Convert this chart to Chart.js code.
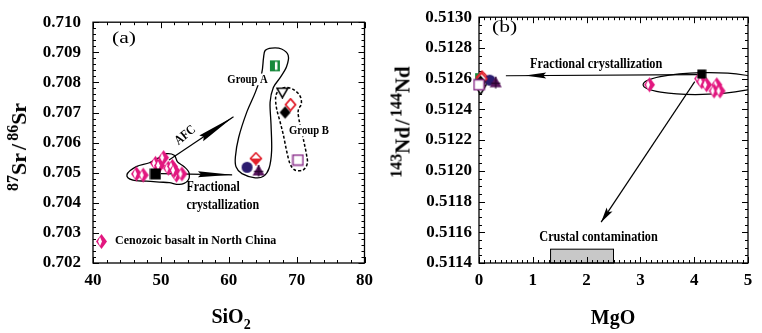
<!DOCTYPE html>
<html><head><meta charset="utf-8">
<script src="https://cdn.jsdelivr.net/npm/chart.js@4.4.1/dist/chart.umd.min.js"></script>
<style>
html,body{margin:0;padding:0;background:#fff;}
#wrap{position:relative;width:762px;height:333px;overflow:hidden;background:#fff;font-family:"Liberation Serif","Times New Roman",serif;}
canvas{position:absolute;top:0;}
.t{position:absolute;font-weight:bold;color:#000;white-space:nowrap;line-height:1;}
.sp{position:relative;}
</style></head><body>
<div id="wrap">
<canvas id="ca" width="380" height="333" style="left:0;width:380px;height:333px"></canvas>
<canvas id="cb" width="382" height="333" style="left:380px;width:382px;height:333px"></canvas>
<div class="t" style="left:231px;top:316px;transform:translate(-50%,-50%);font-size:20px">SiO<span class="sp" style="font-size:14px;top:6px">2</span></div>
<div class="t" style="left:613px;top:317px;transform:translate(-50%,-50%);font-size:20px">MgO</div>
<div class="t" style="left:19px;top:147px;transform:translate(-50%,-50%) rotate(-90deg);font-size:22px"><span class="sp" style="font-size:16px;top:-8px">87</span>Sr<span style="margin:0 3px">/</span><span class="sp" style="font-size:16px;top:-8px">86</span>Sr</div>
<div class="t" style="left:403px;top:122px;transform:translate(-50%,-50%) rotate(-90deg);font-size:21px"><span class="sp" style="font-size:16px;top:-8px">143</span>Nd<span style="margin:0 2px">/</span><span class="sp" style="font-size:16px;top:-8px">144</span>Nd</div>
</div>
<script>
// ---------------- DATA ----------------
// Panel (a): SiO2 vs 87Sr/86Sr
const siTicks = [40, 50, 60, 70, 80];
const srTicks = [0.702, 0.703, 0.704, 0.705, 0.706, 0.707, 0.708, 0.709, 0.710];
// Panel (b): MgO vs 143Nd/144Nd
const mgTicks = [0, 1, 2, 3, 4, 5];
const ndTicks = [0.5114, 0.5116, 0.5118, 0.5120, 0.5122, 0.5124, 0.5126, 0.5128, 0.5130];

// Cenozoic basalt in North China
const basaltSiO2 = [46.4, 47.4, 49.2, 50.4, 51.1, 51.7, 52.3, 53.1, 52.0, 49.8];
const basaltSr   = [0.70496, 0.70492, 0.70531, 0.70550, 0.70515, 0.70521, 0.70492, 0.70496, 0.70508, 0.70524];
const basaltMgO  = [3.17, 4.10, 4.14, 4.23, 4.42, 4.37, 4.48];
const basaltNd   = [0.51256, 0.51260, 0.51258, 0.51256, 0.51256, 0.51252, 0.51252];

// Starting composition (black square)
const startSiO2 = [49.2];
const startSr   = [0.70496];
const startMgO  = [4.14];
const startNd   = [0.51263];

// Samples: Group A (0-3), Group B (4-7)
const sampleNames = ['A-green', 'A-red', 'A-circle', 'A-triangle', 'B-invtri', 'B-reddiamond', 'B-blackdiamond', 'B-square'];
const sampleSiO2  = [66.8, 64.0, 62.7, 64.4, 67.9, 69.1, 68.3, 70.2];
const sampleSr    = [0.70855, 0.70547, 0.70518, 0.70509, 0.70766, 0.70726, 0.70700, 0.70542];
const sampleMgO   = [0.02, 0.06, 0.20, 0.31, 0.03, 0.05, 0.03, 0.00];
const sampleNd    = [0.51260, 0.51261, 0.51259, 0.51258, 0.51253, 0.51260, 0.51258, 0.51256];

// Field outlines (SiO2, Sr) for panel (a)
const basaltField = [[45.0,0.70493],[46.38,0.70520],[48.32,0.70533],[50.03,0.70554],[50.76,0.70563],[51.97,0.70558],[52.45,0.70536],[53.43,0.70520],[54.16,0.70499],[53.91,0.70472],[52.70,0.70461],[51.24,0.70467],[49.78,0.70469],[47.84,0.70472],[45.88,0.70475]];
const groupAField = [[60.98,0.70553],[61.46,0.70617],[62.67,0.70702],[63.90,0.70766],[64.86,0.70831],[65.11,0.70879],[65.36,0.70906],[66.32,0.70914],[67.78,0.70911],[68.76,0.70890],[68.51,0.70852],[67.55,0.70815],[66.57,0.70783],[66.09,0.70734],[66.23,0.70659],[66.32,0.70574],[65.94,0.70515],[65.11,0.70488],[63.90,0.70483],[61.94,0.70497],[61.07,0.70520]];
const groupBField = [[67.30,0.70772],[68.28,0.70783],[69.49,0.70777],[70.47,0.70756],[70.70,0.70729],[70.22,0.70697],[71.09,0.70601],[71.43,0.70563],[71.58,0.70531],[70.95,0.70509],[69.74,0.70509],[69.01,0.70531],[68.51,0.70574],[68.03,0.70627],[67.55,0.70670],[67.05,0.70713],[66.91,0.70750]];
// Trend arrows [start, tip]
const afcArrow = [[51.2,0.70542],[60.7,0.70686]];
const fcArrowA = [[50.0,0.70497],[60.5,0.70493]];
const fcArrowB = [[4.07,0.512626],[0.50,0.512619]];
const ccArrow  = [[4.01,0.512581],[2.27,0.511666]];
// Crustal contamination box (MgO range, Nd range)
const crustMgO = [1.33, 2.50];
const crustNd  = [0.5114, 0.51149];
// Basalt ellipse in (b)
const ellCenter = [4.15, 0.512568];
const ellHalf   = [1.1, 0.000071];

// ---------------- MARKERS ----------------
const F = '"Liberation Serif","Times New Roman",serif';
const PINK='#e2177f', GREEN='#17893b', RED='#e11f2b', NAVY='#2b1c6f', PURP='#5b165f', LPURP='#8b2f8b';
function mk(w,h,fn){const c=document.createElement('canvas');c.width=w;c.height=h;fn(c.getContext('2d'),w,h);return c;}
function dia(x,cx,cy,hw,hh){x.beginPath();x.moveTo(cx,cy-hh);x.lineTo(cx+hw,cy);x.lineTo(cx,cy+hh);x.lineTo(cx-hw,cy);x.closePath();}
const mBasalt=mk(13,17,x=>{dia(x,6.5,8.5,5.5,7.5);x.fillStyle=PINK;x.fill();dia(x,5,8.5,2,4.5);x.fillStyle='#fff';x.fill();});
const mGreen=mk(12,13,x=>{x.fillStyle=GREEN;x.fillRect(1,1,10,11);x.fillStyle='#fff';x.fillRect(6,2.5,2.5,8);});
const mRedHalf=mk(14,14,x=>{dia(x,7,7,5.5,5.8);x.fillStyle='#fff';x.fill();x.strokeStyle=RED;x.lineWidth=1.6;x.stroke();x.beginPath();x.moveTo(1.5,7);x.lineTo(12.5,7);x.lineTo(7,12.8);x.closePath();x.fillStyle=RED;x.fill();});
const mNavy=mk(13,13,x=>{x.beginPath();x.arc(6.5,6.5,5.5,0,Math.PI*2);x.fillStyle=NAVY;x.fill();});
const mPurpTri=mk(14,14,x=>{x.beginPath();x.moveTo(7,1.5);x.lineTo(13,12.5);x.lineTo(1,12.5);x.closePath();x.fillStyle=PURP;x.fill();x.strokeStyle='#2a0530';x.lineWidth=1.3;x.beginPath();x.moveTo(7,2);x.lineTo(7,13.5);x.moveTo(2.5,8.5);x.lineTo(11.5,8.5);x.stroke();});
const mInvTri=mk(13,12,x=>{x.beginPath();x.moveTo(1,1.5);x.lineTo(12,1.5);x.lineTo(6.5,11);x.closePath();x.fillStyle='#fff';x.fill();x.strokeStyle='#000';x.lineWidth=1.5;x.stroke();});
const mRedOpen=mk(13,14,x=>{dia(x,6.5,7,5,5.8);x.fillStyle='#fff';x.fill();x.strokeStyle=RED;x.lineWidth=1.8;x.stroke();});
const mBlackDia=mk(13,14,x=>{dia(x,6.5,7,5.5,6.2);x.fillStyle='#000';x.fill();});
const mPurpSq=mk(13,13,x=>{x.fillStyle='#fff';x.fillRect(1.5,1.5,10,10);x.strokeStyle=LPURP;x.lineWidth=1.5;x.strokeRect(1.5,1.5,10,10);});
const mBlackSq=mk(12,12,x=>{x.fillStyle='#000';x.fillRect(0.5,0.5,11,11);});
const mBlackSqB=mk(10,10,x=>{x.fillStyle='#000';x.fillRect(0.5,0.5,9,9);});
const sampleMarkers=[mGreen,mRedHalf,mNavy,mPurpTri,mInvTri,mRedOpen,mBlackDia,mPurpSq];

// ---------------- HELPERS ----------------
function txt(ctx,s,x,y,o){ctx.save();ctx.translate(x,y);if(o.rot)ctx.rotate(o.rot);ctx.scale(o.sx||1,1);
  ctx.font=`${o.w||'bold'} ${o.size}px ${F}`;ctx.textAlign=o.align||'left';ctx.textBaseline='middle';
  if(o.bg){const w=ctx.measureText(s).width;const x0=o.align==='center'?-w/2:0;ctx.fillStyle='#fff';ctx.fillRect(x0-1,-o.size*0.45,w+2,o.size*0.9);}
  ctx.fillStyle='#000';ctx.fillText(s,0,0);ctx.restore();}
function P(chart,p){return [chart.scales.x.getPixelForValue(p[0]),chart.scales.y.getPixelForValue(p[1])];}
function closedCurve(ctx,pts){const n=pts.length;ctx.beginPath();ctx.moveTo(pts[0][0],pts[0][1]);
  for(let i=0;i<n;i++){const p0=pts[(i-1+n)%n],p1=pts[i],p2=pts[(i+1)%n],p3=pts[(i+2)%n];
    ctx.bezierCurveTo(p1[0]+(p2[0]-p0[0])/6,p1[1]+(p2[1]-p0[1])/6,p2[0]-(p3[0]-p1[0])/6,p2[1]-(p3[1]-p1[1])/6,p2[0],p2[1]);}
  ctx.closePath();}
function arrow(ctx,a,b,f0,f1,hw){ctx.save();ctx.strokeStyle='#000';ctx.fillStyle='#000';ctx.lineWidth=1.2;
  ctx.beginPath();ctx.moveTo(a[0],a[1]);ctx.lineTo(b[0],b[1]);ctx.stroke();
  const dx=b[0]-a[0],dy=b[1]-a[1],L=Math.hypot(dx,dy),ux=dx/L,uy=dy/L,nx=-uy,ny=ux;
  const bx=a[0]+dx*f0,by=a[1]+dy*f0,tx=a[0]+dx*f1,ty=a[1]+dy*f1;
  ctx.beginPath();ctx.moveTo(tx,ty);ctx.lineTo(bx+nx*hw,by+ny*hw);ctx.lineTo(bx+ux*3,by+uy*3);ctx.lineTo(bx-nx*hw,by-ny*hw);ctx.closePath();ctx.fill();ctx.restore();}
function frame(chart,xMaj,xMin,yMaj,yMin){const ctx=chart.ctx,a=chart.chartArea,xs=chart.scales.x,ys=chart.scales.y;
  ctx.save();ctx.strokeStyle='#000';ctx.lineWidth=1.3;ctx.strokeRect(a.left,a.top,a.right-a.left,a.bottom-a.top);
  ctx.lineWidth=1;ctx.beginPath();
  const isMaj=(arr,v,eps)=>arr.some(m=>Math.abs(m-v)<eps);
  const nx=Math.round((xs.max-xs.min)/xMin);
  for(let i=0;i<=nx;i++){const v=xs.min+i*xMin,px=Math.round(xs.getPixelForValue(v))+0.5,l=isMaj(xMaj,v,xMin/10)?6:3;
    ctx.moveTo(px,a.bottom);ctx.lineTo(px,a.bottom-l);ctx.moveTo(px,a.top);ctx.lineTo(px,a.top+l);}
  const ny=Math.round((ys.max-ys.min)/yMin);
  for(let i=0;i<=ny;i++){const v=ys.min+i*yMin,py=Math.round(ys.getPixelForValue(v))+0.5,l=isMaj(yMaj,v,yMin/10)?6:3;
    ctx.moveTo(a.left,py);ctx.lineTo(a.left+l,py);ctx.moveTo(a.right,py);ctx.lineTo(a.right-l,py);}
  ctx.stroke();ctx.restore();}

const tickFont={family:F,size:17,weight:'bold'};
function scales(xmin,xmax,xt,xfmt,ymin,ymax,yt,yfmt,ywidth,ypad){
  return {
    x:{type:'linear',min:xmin,max:xmax,grid:{display:false,drawTicks:false},border:{display:false},
       ticks:{font:tickFont,color:'#000',padding:7,autoSkip:false,maxRotation:0,callback:xfmt},
       afterBuildTicks:s=>{s.ticks=xt.map(v=>({value:v}));},afterFit:s=>{s.height=70;}},
    y:{type:'linear',min:ymin,max:ymax,grid:{display:false,drawTicks:false},border:{display:false},
       ticks:{font:tickFont,color:'#000',padding:ypad,autoSkip:false,callback:yfmt},
       afterBuildTicks:s=>{s.ticks=yt.map(v=>({value:v}));},afterFit:s=>{s.width=ywidth;}}
  };
}
const common={responsive:false,animation:false,events:[],plugins:{legend:{display:false},tooltip:{enabled:false}}};

// ---------------- PANEL (a) ----------------
new Chart(document.getElementById('ca'),{
  type:'scatter',
  data:{datasets:[
    {data:startSiO2.map((v,i)=>({x:v,y:startSr[i]})),pointStyle:mBlackSq,clip:false},
    {data:sampleSiO2.map((v,i)=>({x:v,y:sampleSr[i]})),pointStyle:sampleMarkers,clip:false},
    {data:basaltSiO2.map((v,i)=>({x:v,y:basaltSr[i]})),pointStyle:mBasalt,clip:false}
  ]},
  options:{...common,layout:{padding:{top:14,right:13,left:0,bottom:0}},
    scales:scales(40,80,siTicks,v=>String(v),0.702,0.710,srTicks,v=>v.toFixed(3),93,12)},
  plugins:[{id:'decoA',beforeDatasetsDraw(chart){
    const ctx=chart.ctx,a=chart.chartArea;
    frame(chart,siTicks,2,srTicks,0.0002);
    ctx.save();ctx.strokeStyle='#000';ctx.lineWidth=1.3;
    closedCurve(ctx,basaltField.map(p=>P(chart,p)));ctx.stroke();
    closedCurve(ctx,groupAField.map(p=>P(chart,p)));ctx.stroke();
    ctx.setLineDash([3,2]);ctx.lineWidth=1.5;closedCurve(ctx,groupBField.map(p=>P(chart,p)));ctx.stroke();ctx.setLineDash([]);
    ctx.restore();
    arrow(ctx,P(chart,afcArrow[0]),P(chart,afcArrow[1]),0.5,1.0,3.5);
    arrow(ctx,P(chart,fcArrowA[0]),P(chart,fcArrowA[1]),0.52,1.0,3);
    const gA=P(chart,[62.77,0.70810]);txt(ctx,'Group A',gA[0],gA[1],{size:13,sx:0.82,align:'center',bg:true});
    const gB=P(chart,[71.82,0.70640]);txt(ctx,'Group B',gB[0],gB[1],{size:13,sx:0.82,align:'center',bg:true});
    const af=P(chart,[53.58,0.70624]);txt(ctx,'AFC',af[0],af[1],{size:13,sx:0.85,align:'center',rot:-0.68});
    const f1=P(chart,[53.77,0.70451]);txt(ctx,'Fractional',f1[0],f1[1],{size:15,sx:0.8});
    const f2=P(chart,[53.77,0.70393]);txt(ctx,'crystallization',f2[0],f2[1],{size:15,sx:0.8});
    txt(ctx,'(a)',a.left+19,a.top+17,{size:16,w:'normal',sx:1.35});
    ctx.drawImage(mBasalt,a.left+8-6,a.bottom-22-8);
    txt(ctx,'Cenozoic basalt in North China',a.left+22,a.bottom-22,{size:12});
  }}]
});

// ---------------- PANEL (b) ----------------
new Chart(document.getElementById('cb'),{
  type:'scatter',
  data:{datasets:[
    {data:startMgO.map((v,i)=>({x:v,y:startNd[i]})),pointStyle:mBlackSqB,clip:false},
    {data:sampleMgO.map((v,i)=>({x:v,y:sampleNd[i]})),pointStyle:sampleMarkers,clip:false},
    {data:basaltMgO.map((v,i)=>({x:v,y:basaltNd[i]})),pointStyle:mBasalt,clip:false}
  ]},
  options:{...common,layout:{padding:{top:15,right:14,left:0,bottom:0}},
    scales:scales(0,5,mgTicks,v=>String(v),0.5114,0.5130,ndTicks,v=>v.toFixed(4),99,7)},
  plugins:[{id:'decoB',beforeDatasetsDraw(chart){
    const ctx=chart.ctx,a=chart.chartArea,xs=chart.scales.x,ys=chart.scales.y;
    const b0=P(chart,[crustMgO[0],crustNd[1]]),b1=P(chart,[crustMgO[1],crustNd[0]]);
    ctx.save();ctx.fillStyle='#c8c8c8';ctx.fillRect(b0[0],b0[1],b1[0]-b0[0],b1[1]-b0[1]);
    ctx.strokeStyle='#000';ctx.lineWidth=1;ctx.strokeRect(b0[0],b0[1],b1[0]-b0[0],b1[1]-b0[1]);ctx.restore();
    frame(chart,mgTicks,0.1,ndTicks,0.00005);
    const c=P(chart,ellCenter);const rx=Math.abs(xs.getPixelForValue(ellCenter[0]+ellHalf[0])-c[0]);const ry=Math.abs(ys.getPixelForValue(ellCenter[1]+ellHalf[1])-c[1]);
    ctx.save();ctx.beginPath();ctx.rect(a.left,a.top,a.right-a.left,a.bottom-a.top);ctx.clip();
    ctx.beginPath();ctx.ellipse(c[0],c[1],rx,ry,-0.02,0,Math.PI*2);ctx.strokeStyle='#000';ctx.lineWidth=1.2;ctx.stroke();ctx.restore();
    arrow(ctx,P(chart,fcArrowB[0]),P(chart,fcArrowB[1]),0.79,0.9,3);
    arrow(ctx,P(chart,ccArrow[0]),P(chart,ccArrow[1]),0.91,1.0,3.5);
    const t1=P(chart,[0.95,0.512697]);txt(ctx,'Fractional crystallization',t1[0],t1[1],{size:15,sx:0.82});
    const t2=P(chart,[1.12,0.511568]);txt(ctx,'Crustal contamination',t2[0],t2[1],{size:15,sx:0.82});
    txt(ctx,'(b)',a.left+13,a.top+11,{size:16,w:'normal',sx:1.35});
  }}]
});
</script>
</body></html>
